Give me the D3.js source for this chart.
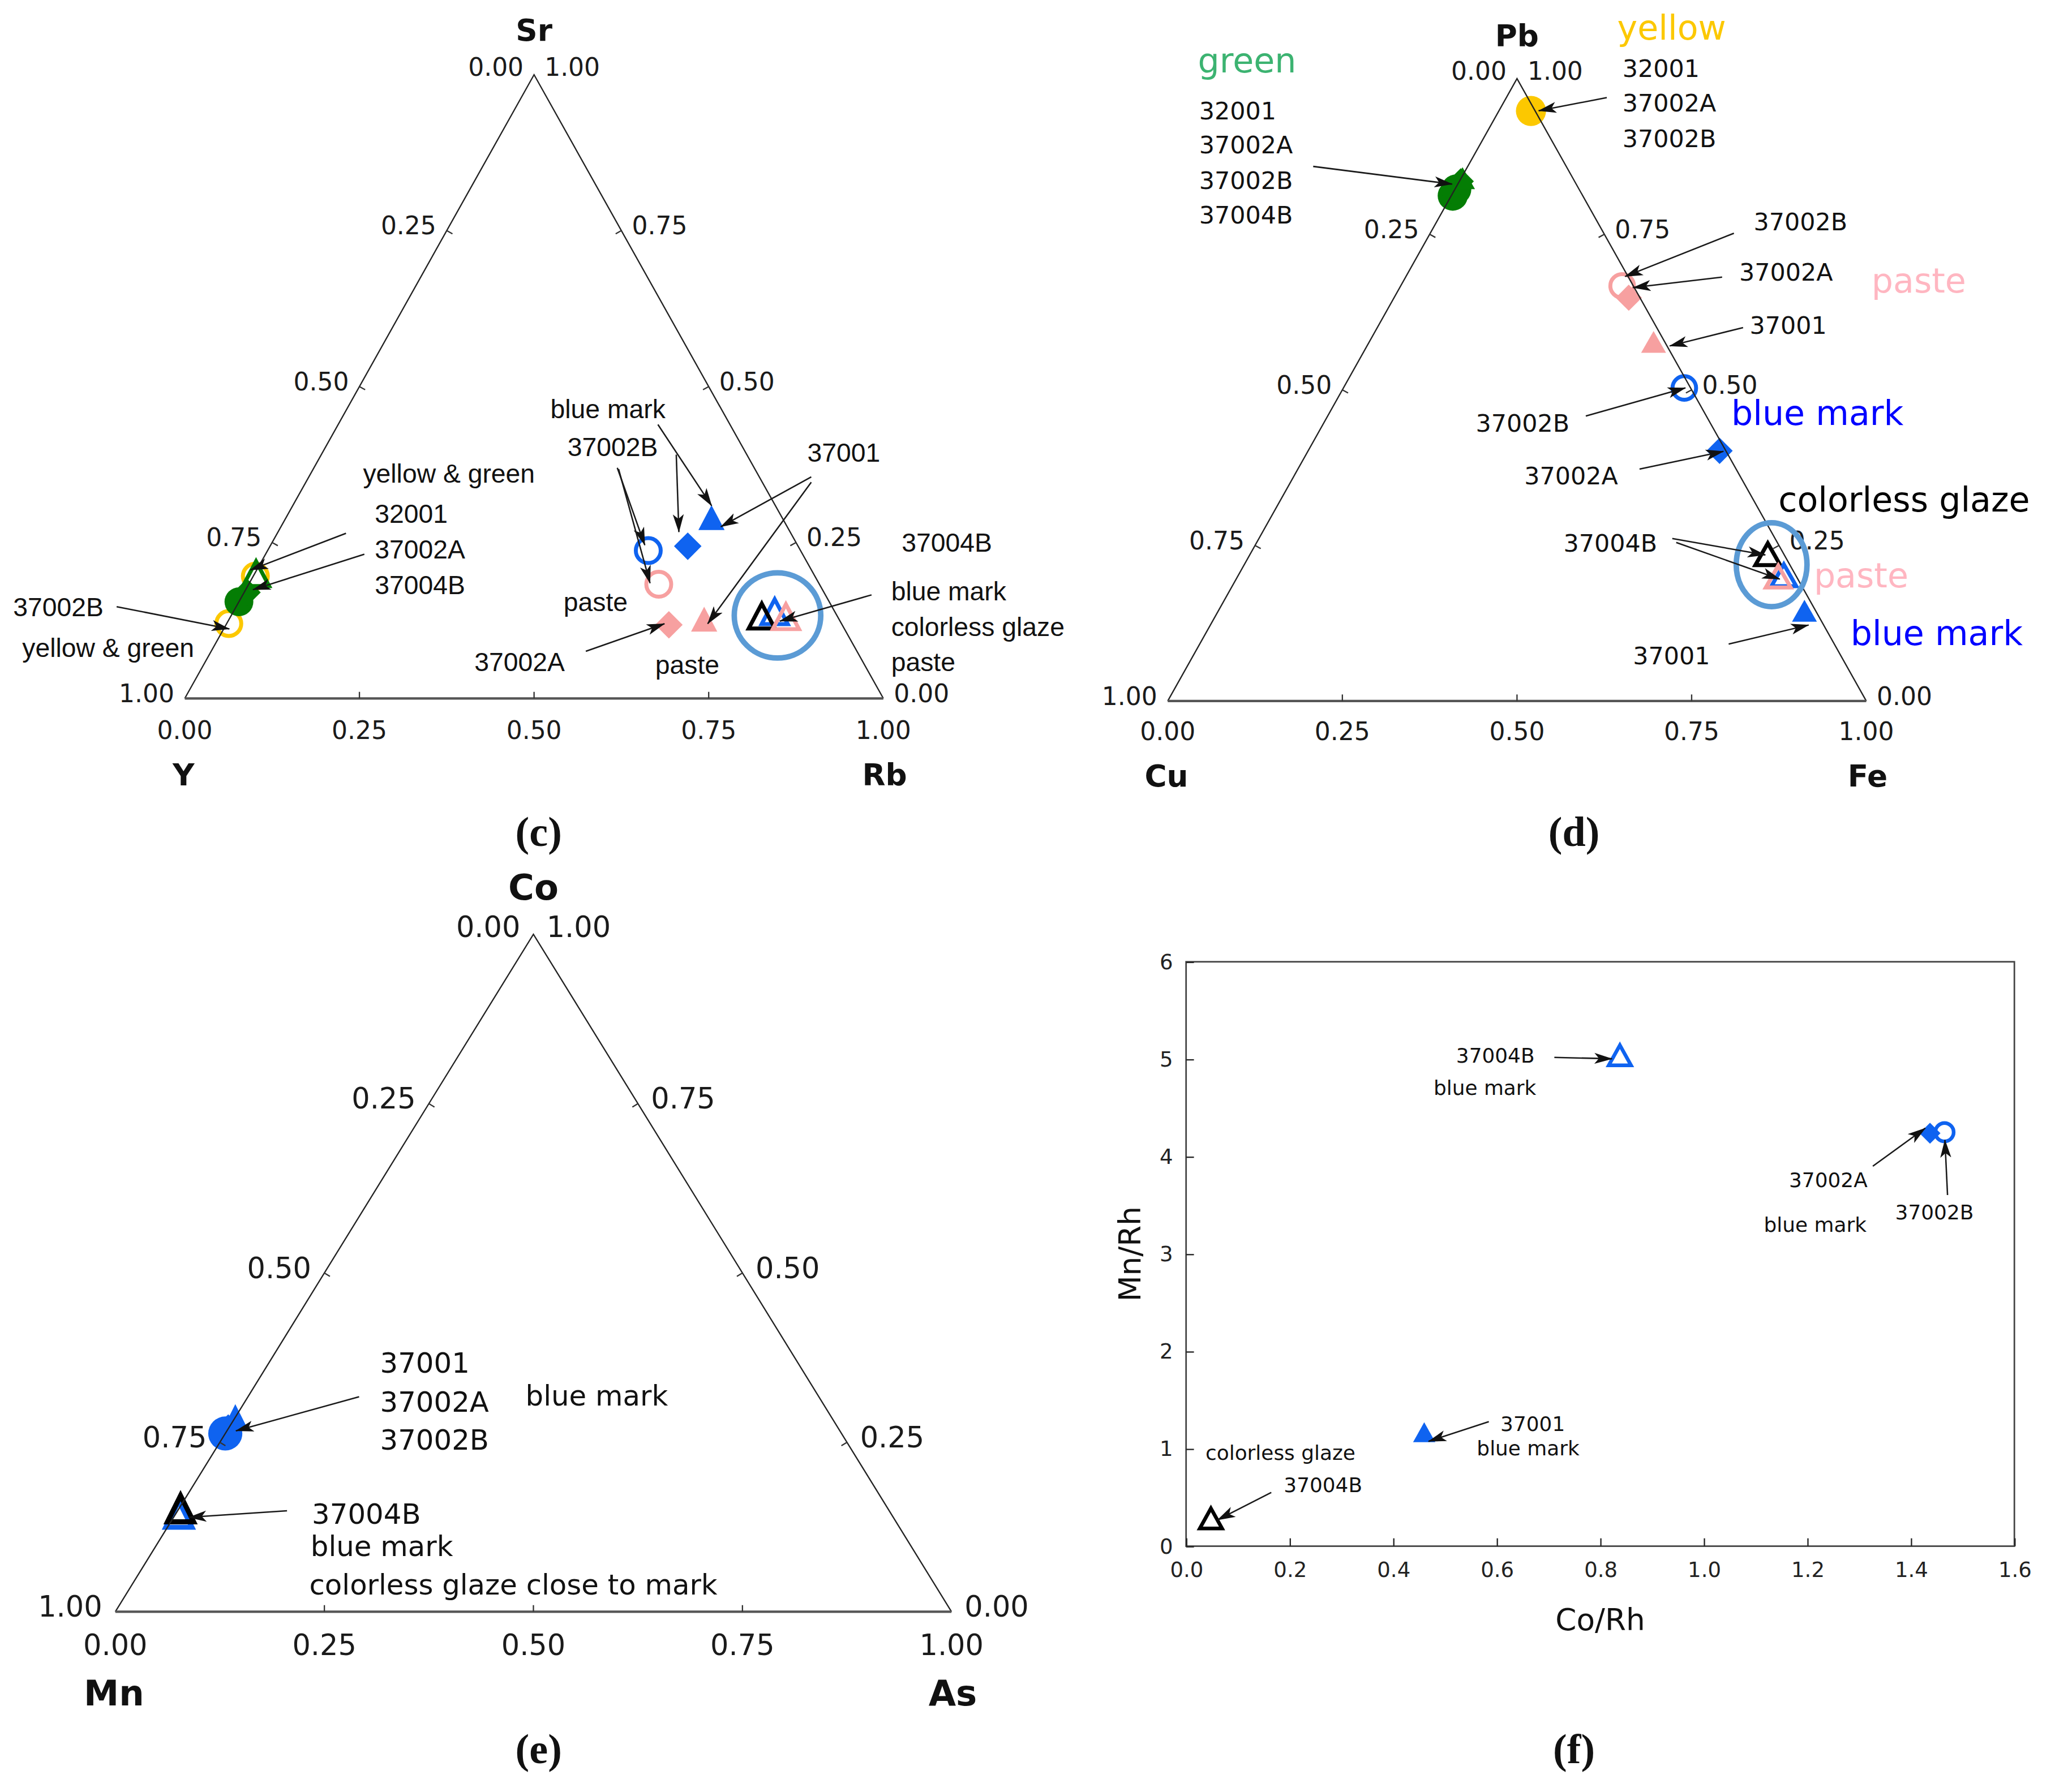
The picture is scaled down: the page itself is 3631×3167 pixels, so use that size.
<!DOCTYPE html>
<html>
<head>
<meta charset="utf-8">
<style>
 body { margin: 0; background: #fff; }
 svg { display: block; background: #fff; }
 .tick-lbl { font-family: "DejaVu Sans", Verdana, sans-serif; fill: #1a1a1a; }
 .corner { font-family: "DejaVu Sans", Verdana, sans-serif; font-weight: bold; fill: #111; }
 .tag { font-family: "Liberation Serif", serif; font-weight: bold; fill: #111; }
 .arrow { stroke: #1a1a1a; stroke-width: 1.1; fill: none; }
</style>
</head>
<body>
<svg id="fig" width="3631" height="3167" viewBox="0 0 1568 1367.6"></svg>
<script src="https://d3js.org/d3.v7.min.js"></script>
<script>
// ---------------- data ----------------
var ternTicks = [0, 0.25, 0.5, 0.75, 1];

// (c) Y - Sr - Rb   : sample, part, symbol, Y, Sr, Rb
var ptsC = [
  ["37002B", "yellow", "circleOpen",   0.877, 0.120, 0.003],
  ["32001",  "yellow", "circleOpen",   0.801, 0.196, 0.003],
  ["32001",  "green",  "circle",       0.845, 0.155, 0.000],
  ["37002A", "green",  "diamond",      0.826, 0.170, 0.004],
  ["37004B", "green",  "triangleOpen", 0.798, 0.200, 0.002],
  ["37002B", "blue",   "circleOpen",   0.218, 0.237, 0.545],
  ["37002B", "paste",  "circleOpen",   0.230, 0.183, 0.587],
  ["37002A", "blue",   "diamond",      0.158, 0.244, 0.598],
  ["37001",  "blue",   "triangle",     0.101, 0.290, 0.609],
  ["37002A", "paste",  "diamond",      0.248, 0.118, 0.634],
  ["37001",  "paste",  "triangle",     0.193, 0.127, 0.680],
  ["37004B", "blue",   "triangleOpen", 0.086, 0.139, 0.775],
  ["37004B", "glaze",  "triangleOpen", 0.108, 0.132, 0.760],
  ["37004B", "paste",  "triangleOpen", 0.074, 0.131, 0.795]
];
var ringC = [0.085, 0.133, 0.782];

// (d) Cu - Pb - Fe  : sample, part, symbol, Cu, Pb, Fe
var ptsD = [
  ["32001",  "yellow", "circle",       0.006, 0.948, 0.046],
  ["37002B", "green",  "circle",       0.186, 0.812, 0.002],
  ["32001",  "green",  "circle",       0.176, 0.822, 0.002],
  ["37002A", "green",  "diamond",      0.163, 0.835, 0.002],
  ["37004B", "green",  "triangle",     0.158, 0.840, 0.002],
  ["37002B", "paste",  "circleOpen",   0.016, 0.667, 0.317],
  ["37002A", "paste",  "diamond",      0.016, 0.648, 0.336],
  ["37001",  "paste",  "triangle",     0.016, 0.577, 0.407],
  ["37002B", "blue",   "circleOpen",   0.009, 0.503, 0.488],
  ["37002A", "blue",   "diamond",      0.009, 0.402, 0.589],
  ["37004B", "glaze",  "triangleOpen", 0.023, 0.236, 0.741],
  ["37004B", "blue",   "triangleOpen", 0.017, 0.202, 0.781],
  ["37004B", "paste",  "triangleOpen", 0.026, 0.200, 0.774],
  ["37001",  "blue",   "triangle",     0.016, 0.145, 0.839]
];
var ringD = [0.026, 0.219, 0.755];

// (e) Mn - Co - As  : sample, part, symbol, Mn, Co, As
var ptsE = [
  ["37002B", "blue",  "circle",       0.737, 0.263, 0.000],
  ["37002A", "blue",  "diamond",      0.730, 0.270, 0.000],
  ["37001",  "blue",  "triangle",     0.713, 0.287, 0.000],
  ["37004B", "blue",  "triangleOpen", 0.852, 0.144, 0.004],
  ["37004B", "glaze", "triangleOpen", 0.846, 0.152, 0.002]
];

// (f) Co/Rh vs Mn/Rh : sample, part, symbol, Co/Rh, Mn/Rh
var ptsF = [
  ["37004B", "blue",  "triangleOpen", 0.838, 5.04],
  ["37002A", "blue",  "diamond",      1.437, 4.24],
  ["37002B", "blue",  "circleOpen",   1.465, 4.25],
  ["37001",  "blue",  "triangle",     0.460, 1.17],
  ["37004B", "glaze", "triangleOpen", 0.048, 0.285]
];
var fTicksX = [0, 0.2, 0.4, 0.6, 0.8, 1.0, 1.2, 1.4, 1.6];
var fTicksY = [0, 1, 2, 3, 4, 5, 6];

// ---------------- annotations (layout, px of the 1560-wide frame) ----------------
var notesC = [
  ["yellow & green", 277, 361], ["32001", 286, 392], ["37002A", 286, 419], ["37004B", 286, 446],
  ["37002B", 10, 463], ["yellow & green", 17, 494],
  ["blue mark", 420, 312], ["37002B", 433, 341], ["37001", 616, 345],
  ["37004B", 688, 414], ["paste", 430, 459],
  ["blue mark", 680, 451], ["colorless glaze", 680, 478], ["paste", 680, 505],
  ["37002A", 362, 505], ["paste", 500, 507]
];
var arrowsC = [
  [264, 407, 191, 435], [278, 423, 193, 450], [89, 463, 175, 480],
  [502, 324, 543, 386], [516, 347, 518, 406], [471, 357, 492, 416], [472, 358, 496, 445],
  [619, 364, 550, 402], [619, 368, 540, 476], [665, 454, 595, 474], [447, 497, 507, 476]
];
var notesD = [
  ["32001", 1238, 52], ["37002A", 1238, 78.5], ["37002B", 1238, 105.5],
  ["32001", 915, 84.5], ["37002A", 915, 110.5], ["37002B", 915, 137.5], ["37004B", 915, 164],
  ["37002B", 1338, 169], ["37002A", 1327, 207.5], ["37001", 1335, 248],
  ["37002B", 1126, 323], ["37002A", 1163, 363], ["37004B", 1193, 414.5], ["37001", 1246, 500.5]
];
var bigNotesD = [
  ["yellow", 1234, 21, "yellow"], ["green", 914, 46, "green"], ["paste", 1428, 214, "paste"],
  ["blue mark", 1321, 315, "blue"], ["colorless glaze", 1357, 381, "black"],
  ["paste", 1384, 439, "paste"], ["blue mark", 1412, 483, "blue"]
];
var arrowsD = [
  [1226, 74.5, 1174, 84.5], [1002, 127, 1108, 140.5], [1323, 178, 1240, 211], [1314, 211.5, 1246, 219.5],
  [1330, 250, 1274, 264], [1210, 317.5, 1286, 296], [1251, 358, 1315, 344.5],
  [1276, 411, 1347, 423.5], [1279, 414, 1358, 442], [1319, 491.5, 1380, 477]
];
var notesE = [
  ["37001", 290, 1040], ["37002A", 290, 1069.5], ["37002B", 290, 1098.5], ["blue mark", 401, 1065],
  ["37004B", 238, 1155], ["blue mark", 237, 1180], ["colorless glaze close to mark", 236, 1209]
];
var arrowsE = [[274, 1066, 180, 1092], [219, 1153, 144, 1158]];
var notesF = [
  ["37004B", 1141, 805.5], ["blue mark", 1133, 830], ["37002A", 1395, 900.5], ["37002B", 1476, 925],
  ["blue mark", 1385, 934.5], ["37001", 1169.5, 1086.5], ["blue mark", 1166, 1105],
  ["colorless glaze", 977, 1108.5], ["37004B", 1009.5, 1133]
];
var arrowsF = [
  [1186, 807, 1230, 808], [1429, 890, 1469, 861], [1486, 912, 1484, 870],
  [1136, 1085, 1090, 1100], [970, 1139, 929, 1160]
];

// ---------------- styles ----------------
var markColor = { blue: "#0f63f0", paste: "#f7a0a0", glaze: "#000000", yellow: "#fcc800", green: "#047d04" };
var wordColor = { yellow: "#fcc800", green: "#3cb371", paste: "#ffb6c1", blue: "#0000ff", black: "#000" };

var svg = d3.select("#fig");
svg.append("defs").append("marker")
  .attr("id", "head").attr("viewBox", "0 -5 14 10").attr("refX", 13.5).attr("refY", 0)
  .attr("markerWidth", 14).attr("markerHeight", 10).attr("markerUnits", "userSpaceOnUse")
  .attr("orient", "auto")
  .append("path").attr("d", "M0,-4.2L14,0L0,4.2L3.5,0Z").attr("fill", "#111");

function shapePath(sym, sz) {
  var base = sym.replace("Open", "");
  var s = (sym === "circle") ? sz.circFill : sz[base];
  if (base === "triangle") {
    var h = s * sz.triH;
    return "M0," + (-h / 2) + "L" + (s / 2) + "," + (h / 2) + "L" + (-s / 2) + "," + (h / 2) + "Z";
  }
  if (base === "diamond") {
    return "M0," + (-s / 2) + "L" + (s / 2) + ",0L0," + (s / 2) + "L" + (-s / 2) + ",0Z";
  }
  var r = s / 2;
  return "M" + r + ",0A" + r + "," + r + " 0 1,1 " + (-r) + ",0A" + r + "," + r + " 0 1,1 " + r + ",0Z";
}

function drawMarks(g, rows, xy, sz) {
  g.selectAll(null).data(rows).enter().append("path")
    .attr("transform", function (r) { var p = xy(r); return "translate(" + p[0] + "," + p[1] + ")"; })
    .attr("d", function (r) { return shapePath(r[2], sz); })
    .attr("fill", function (r) { return /Open$/.test(r[2]) ? "none" : markColor[r[1]]; })
    .attr("stroke", function (r) { return /Open$/.test(r[2]) ? markColor[r[1]] : "none"; })
    .attr("stroke-width", sz.sw);
}

function drawArrows(g, list) {
  g.selectAll(null).data(list).enter().append("line")
    .attr("class", "arrow")
    .attr("x1", function (a) { return a[0]; }).attr("y1", function (a) { return a[1]; })
    .attr("x2", function (a) { return a[2]; }).attr("y2", function (a) { return a[3]; })
    .attr("marker-end", "url(#head)");
}

function drawNotes(g, list, font, size, anchor, color) {
  g.selectAll(null).data(list).enter().append("text")
    .attr("x", function (n) { return n[1]; }).attr("y", function (n) { return n[2]; })
    .attr("dy", "0.36em")
    .attr("text-anchor", anchor)
    .attr("font-family", font).attr("font-size", size)
    .attr("fill", function (n) { return n[3] ? wordColor[n[3]] : (color || "#111"); })
    .text(function (n) { return n[0]; });
}

var fmt2 = d3.format(".2f");

// labels first; the frame is drawn later so that it sits on top of the markers
function drawTernary(p) {
  var g = svg.append("g");
  var x = d3.scaleLinear().domain([0, 1]).range([p.x0, p.x1]);
  var y = d3.scaleLinear().domain([0, 1]).range([p.base, p.top]);
  var pos = function (c) {
    var s = c[0] + c[1] + c[2];
    return [x((c[2] + c[1] / 2) / s), y(c[1] / s)];
  };
  var L = pos([1, 0, 0]), A = pos([0, 1, 0]), R = pos([0, 0, 1]), cen = pos([1, 1, 1]);

  var lab = g.append("g").attr("class", "tick-lbl").attr("font-size", p.tickFont);
  ternTicks.forEach(function (t) {
    var b = pos([1 - t, 0, t]);
    lab.append("text").attr("x", b[0]).attr("y", b[1] + p.bOff).attr("dy", "0.36em")
      .attr("text-anchor", "middle").text(fmt2(t));
    var l = pos([t, 1 - t, 0]);
    lab.append("text").attr("x", l[0] - p.gap).attr("y", l[1] + (t === 0 ? -p.topOff : -4)).attr("dy", "0.36em")
      .attr("text-anchor", "end").text(fmt2(t));
    var r = pos([0, t, 1 - t]);
    lab.append("text").attr("x", r[0] + p.gap).attr("y", r[1] + (t === 1 ? -p.topOff : -4)).attr("dy", "0.36em")
      .attr("text-anchor", "start").text(fmt2(t));
  });

  var nm = g.append("g").attr("class", "corner").attr("font-size", p.nameFont).attr("text-anchor", "middle");
  nm.append("text").attr("x", A[0]).attr("y", A[1] - p.nameTop).attr("dy", "0.36em").text(p.names[1]);
  nm.append("text").attr("x", L[0] - 1).attr("y", L[1] + p.nameBot).attr("dy", "0.36em").text(p.names[0]);
  nm.append("text").attr("x", R[0] + 1).attr("y", R[1] + p.nameBot).attr("dy", "0.36em").text(p.names[2]);

  function inward(P, E1, E2) {
    var dx = E2[0] - E1[0], dy = E2[1] - E1[1], len = Math.hypot(dx, dy);
    var nx = -dy / len, ny = dx / len;
    if ((cen[0] - P[0]) * nx + (cen[1] - P[1]) * ny < 0) { nx = -nx; ny = -ny; }
    return [nx, ny];
  }

  g.pos = pos;
  g.frame = function () {
    var fr = g.append("g");
    fr.append("path").attr("d", "M" + L + "L" + A + "L" + R)
      .attr("fill", "none").attr("stroke", "#222").attr("stroke-width", 1);
    fr.append("line").attr("x1", L[0]).attr("y1", L[1]).attr("x2", R[0]).attr("y2", R[1])
      .attr("stroke", "#555").attr("stroke-width", 1.8);
    ternTicks.slice(1, -1).forEach(function (t) {
      [[pos([1 - t, 0, t]), L, R], [pos([t, 1 - t, 0]), L, A], [pos([0, t, 1 - t]), R, A]].forEach(function (e) {
        var n = inward(e[0], e[1], e[2]);
        fr.append("line").attr("x1", e[0][0]).attr("y1", e[0][1])
          .attr("x2", e[0][0] + n[0] * p.tick).attr("y2", e[0][1] + n[1] * p.tick)
          .attr("stroke", "#333").attr("stroke-width", 1);
      });
    });
  };
  return g;
}

// ---------------- panel (c) ----------------
var gC = drawTernary({ x0: 141, x1: 674, top: 57, base: 533, tick: 5, tickFont: 19, gap: 8, bOff: 24, topOff: 6,
  nameFont: 23, nameTop: 34, nameBot: 58, names: ["Y", "Sr", "Rb"] });
drawMarks(gC, ptsC, function (r) { return gC.pos([r[3], r[4], r[5]]); },
  { triangle: 20, triH: 0.95, diamond: 21, circle: 19, circFill: 22, sw: 3 });
gC.frame();
var pc = gC.pos(ringC);
gC.append("ellipse").attr("cx", pc[0]).attr("cy", pc[1]).attr("rx", 33).attr("ry", 32.5)
  .attr("fill", "none").attr("stroke", "#5b9bd5").attr("stroke-width", 4.2);
drawArrows(gC, arrowsC);
drawNotes(gC, notesC, "Liberation Sans, Arial, sans-serif", 20, "start");

// ---------------- panel (d) ----------------
var gD = drawTernary({ x0: 891, x1: 1424, top: 60, base: 535, tick: 5, tickFont: 19, gap: 8, bOff: 23, topOff: 6,
  nameFont: 23, nameTop: 33, nameBot: 57, names: ["Cu", "Pb", "Fe"] });
drawMarks(gD, ptsD, function (r) { return gD.pos([r[3], r[4], r[5]]); },
  { triangle: 19, triH: 0.88, diamond: 20, circle: 18, circFill: 23, sw: 3 });
gD.frame();
var pd = gD.pos(ringD);
gD.append("ellipse").attr("cx", pd[0]).attr("cy", pd[1]).attr("rx", 27).attr("ry", 32)
  .attr("fill", "none").attr("stroke", "#5b9bd5").attr("stroke-width", 4.2);
drawArrows(gD, arrowsD);
drawNotes(gD, notesD, "DejaVu Sans, Verdana, sans-serif", 18.5, "start");
drawNotes(gD, bigNotesD, "DejaVu Sans, Verdana, sans-serif", 26, "start");

// ---------------- panel (e) ----------------
var gE = drawTernary({ x0: 88, x1: 726, top: 713, base: 1230, tick: 5, tickFont: 22, gap: 10, bOff: 25, topOff: 6,
  nameFont: 27, nameTop: 36, nameBot: 62, names: ["Mn", "Co", "As"] });
drawMarks(gE, ptsE, function (r) { return gE.pos([r[3], r[4], r[5]]); },
  { triangle: 20, triH: 1.0, diamond: 22, circle: 22, circFill: 26, sw: 3.8 });
gE.frame();
drawArrows(gE, arrowsE);
drawNotes(gE, notesE, "DejaVu Sans, Verdana, sans-serif", 21.5, "start");

// ---------------- panel (f) ----------------
var fx = d3.scaleLinear().domain([0, 1.6]).range([905, 1537]);
var fy = d3.scaleLinear().domain([0, 6]).range([1180, 734]);
var gF = svg.append("g");
gF.append("rect").attr("x", fx(0)).attr("y", fy(6)).attr("width", fx(1.6) - fx(0)).attr("height", fy(0) - fy(6))
  .attr("fill", "none").attr("stroke", "#444").attr("stroke-width", 1.2);
var ax = gF.append("g").attr("transform", "translate(0," + fy(0) + ")")
  .call(d3.axisBottom(fx).tickValues(fTicksX).tickFormat(d3.format(".1f")).tickSizeInner(-6).tickSizeOuter(0).tickPadding(12));
var ay = gF.append("g").attr("transform", "translate(" + fx(0) + ",0)")
  .call(d3.axisLeft(fy).tickValues(fTicksY).tickFormat(d3.format("d")).tickSizeInner(-6).tickSizeOuter(0).tickPadding(10));
[ax, ay].forEach(function (a) {
  a.attr("font-family", "DejaVu Sans, Verdana, sans-serif").attr("font-size", 16).attr("color", "#222");
  a.select(".domain").remove();
});
gF.append("text").attr("x", (fx(0) + fx(1.6)) / 2).attr("y", 1236).attr("dy", "0.36em")
  .attr("text-anchor", "middle").attr("font-family", "DejaVu Sans, Verdana, sans-serif").attr("font-size", 23)
  .attr("fill", "#111").text("Co/Rh");
gF.append("text").attr("transform", "translate(862," + (fy(0) + fy(6)) / 2 + ") rotate(-90)").attr("dy", "0.36em")
  .attr("text-anchor", "middle").attr("font-family", "DejaVu Sans, Verdana, sans-serif").attr("font-size", 23)
  .attr("fill", "#111").text("Mn/Rh");
drawMarks(gF, ptsF, function (r) { return [fx(r[3]), fy(r[4])]; },
  { triangle: 17, triH: 0.9, diamond: 16, circle: 14, circFill: 16, sw: 2.8 });
drawArrows(gF, arrowsF);
drawNotes(gF, notesF, "DejaVu Sans, Verdana, sans-serif", 15.5, "middle");

// ---------------- panel tags ----------------
var tags = [["(c)", 411, 634], ["(d)", 1201, 634], ["(e)", 411, 1334], ["(f)", 1201, 1334]];
svg.selectAll("text.tag").data(tags).enter().append("text").attr("class", "tag")
  .attr("x", function (d) { return d[1]; }).attr("y", function (d) { return d[2]; }).attr("dy", "0.36em")
  .attr("text-anchor", "middle").attr("font-size", 32).text(function (d) { return d[0]; });
</script>
</body>
</html>
